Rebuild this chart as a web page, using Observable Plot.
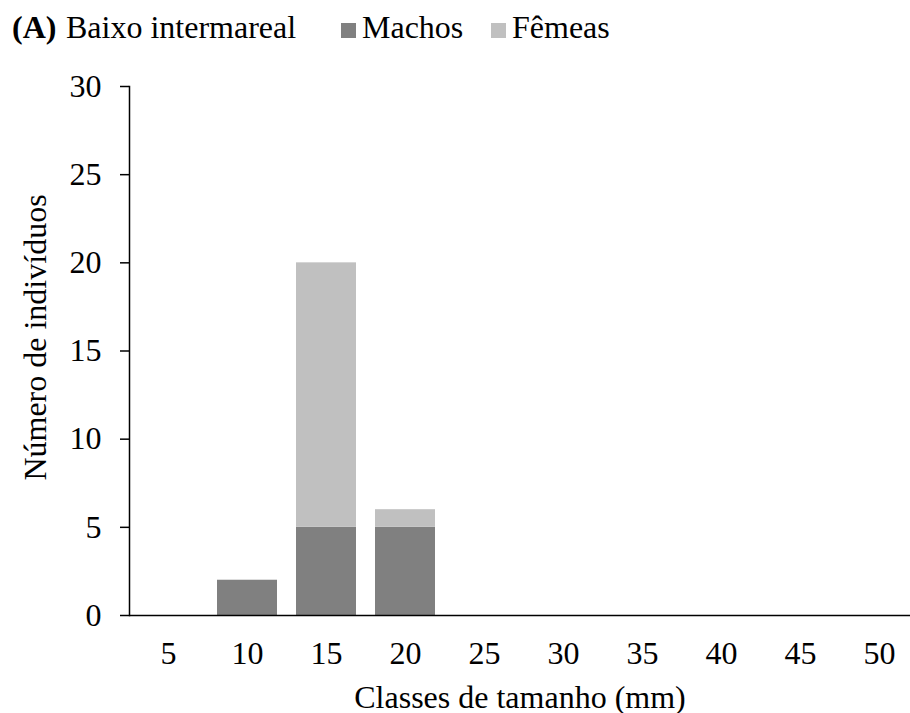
<!DOCTYPE html>
<html><head><meta charset="utf-8">
<script src="https://cdn.jsdelivr.net/npm/d3@7"></script>
<script src="https://cdn.jsdelivr.net/npm/@observablehq/plot@0.6"></script>
<style>
body{margin:0;background:#fff;font-family:"Liberation Serif","Times New Roman",serif;}
#header{position:relative;height:56px;width:910px;font-size:32px;line-height:32px;color:#000}
#header span{position:absolute;top:11px;white-space:nowrap}
#header .sw{position:absolute;top:23px;width:15px;height:15px}
#chart svg{display:block}
</style></head><body>
<div id="header"></div>
<div id="chart"></div>
<script>
const classes = ["5","10","15","20","25","30","35","40","45","50"];
const machos = [0,2,5,5,0,0,0,0,0,0];
const femeas = [0,0,15,1,0,0,0,0,0,0];
const series = ["Machos","Fêmeas"];
const colors = ["#808080","#c0c0c0"];
const yTicks = [0,5,10,15,20,25,30];
const panelTag = "(A)";
const panelTitle = "Baixo intermareal";
const xLabel = "Classes de tamanho (mm)";
const yLabel = "Número de indivíduos";

// header (title + legend)
const header = document.getElementById("header");
function addSpan(text, left, bold) {
  const s = document.createElement("span");
  s.textContent = text; s.style.left = left + "px";
  if (bold) s.style.fontWeight = "bold";
  header.appendChild(s);
}
function addSwatch(color, left) {
  const d = document.createElement("div");
  d.className = "sw"; d.style.left = left + "px"; d.style.background = color;
  header.appendChild(d);
}
addSpan(panelTag, 12, true);
addSpan(panelTitle, 66, false);
addSwatch(colors[0], 341); addSpan(series[0], 362, false);
addSwatch(colors[1], 491); addSpan(series[1], 512, false);

const rows = [];
classes.forEach((c, i) => {
  rows.push({classe: c, sexo: series[0], n: machos[i]});
  rows.push({classe: c, sexo: series[1], n: femeas[i]});
});

const chart = Plot.plot({
  width: 910,
  height: 657,
  marginLeft: 129,
  marginRight: 0,
  marginTop: 30,
  marginBottom: 98,
  style: {fontFamily: '"Liberation Serif","Times New Roman",serif', fontSize: "32px", color: "#000", background: "#fff"},
  x: {type: "band", domain: classes, range: [129, 919], paddingInner: 0.24, paddingOuter: 0.12},
  y: {domain: [0, 30]},
  color: {domain: series, range: colors},
  marks: [
    Plot.barY(rows.filter(d => d.n > 0), {x: "classe", y: "n", fill: "sexo", order: series}),
    Plot.frame({anchor: "left", stroke: "#000", strokeWidth: 1.5}),
    Plot.ruleY([0], {stroke: "#000", strokeWidth: 1.5}),
    Plot.axisY({ticks: yTicks, tickSize: 9, tickPadding: 19, label: null, fontSize: 32, strokeWidth: 1.5, stroke: "#000"}),
    Plot.axisX({tickSize: 0, tickPadding: 26, label: null, fontSize: 32}),
    Plot.text([yLabel], {text: d => d, frameAnchor: "left", rotate: -90, dx: -84, dy: -13.5, lineAnchor: "bottom", textAnchor: "middle", fontSize: 32, fill: "#000"}),
    Plot.text([xLabel], {text: d => d, frameAnchor: "bottom", dx: 0, dy: 92, lineAnchor: "bottom", textAnchor: "middle", fontSize: 32, fill: "#000"})
  ]
});
document.getElementById("chart").appendChild(chart);
</script>
</body></html>
